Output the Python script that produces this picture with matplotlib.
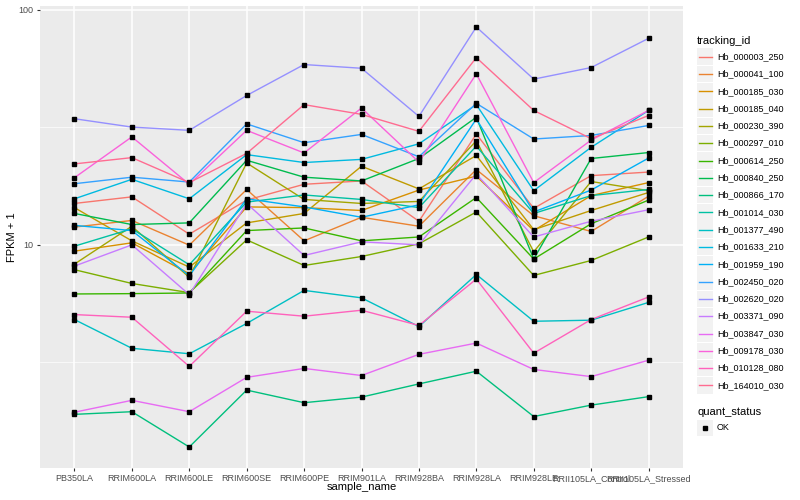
import numpy as np
import matplotlib.pyplot as plt
from matplotlib.patches import Rectangle
from matplotlib.lines import Line2D
from matplotlib.ticker import FixedLocator, NullFormatter, NullLocator

plt.rcParams['font.family'] = ['Liberation Sans', 'DejaVu Sans']

# サンプル名
samples = ['PB350LA', 'RRIM600LA', 'RRIM600LE', 'RRIM600SE', 'RRIM600PE',
           'RRIM901LA', 'RRIM928BA', 'RRIM928LA', 'RRIM928LE',
           'RRII105LA_Control', 'RRII105LA_Stressed']

# FPKM + 1
hb_000003_250 = [15.0, 16.0, 11.1, 15.5, 18.1, 18.7, 12.6, 29.6, 14.3, 19.7, 20.4]
hb_000041_100 = [11.9, 12.7, 9.97, 17.2, 10.4, 13.1, 12.0, 20.9, 13.3, 11.4, 16.1]
hb_000185_030 = [9.40, 10.2, 7.54, 14.5, 14.4, 14.0, 17.1, 19.6, 11.5, 16.2, 18.4]
hb_000185_040 = [14.4, 10.4, 8.04, 12.4, 13.6, 21.6, 17.3, 24.0, 11.6, 14.0, 16.7]
hb_000230_390 = [8.28, 12.0, 7.27, 22.3, 15.6, 15.0, 15.3, 27.7, 9.34, 18.6, 17.0]
hb_000297_010 = [7.84, 6.85, 6.26, 10.5, 8.17, 8.92, 10.1, 13.8, 7.41, 8.58, 10.8]
hb_000614_250 = [6.18, 6.20, 6.24, 11.5, 11.8, 10.4, 10.8, 15.9, 8.70, 12.3, 15.5]
hb_000840_250 = [13.6, 12.2, 12.4, 22.9, 19.4, 18.7, 23.3, 34.9, 8.70, 23.3, 24.7]
hb_000866_170 = [1.90, 1.95, 1.38, 2.41, 2.13, 2.25, 2.56, 2.90, 1.86, 2.08, 2.26]
hb_001014_030 = [9.87, 11.7, 8.23, 15.2, 16.3, 15.6, 14.4, 26.3, 13.6, 16.2, 17.2]
hb_001377_490 = [4.81, 3.63, 3.44, 4.63, 6.40, 5.95, 4.49, 7.48, 4.73, 4.78, 5.69]
hb_001633_210 = [15.7, 19.0, 15.7, 24.2, 22.4, 23.1, 26.9, 39.5, 17.0, 26.0, 37.3]
hb_001959_190 = [12.1, 11.5, 7.39, 15.7, 14.5, 13.1, 14.8, 34.3, 13.8, 17.1, 23.4]
hb_002450_020 = [18.2, 19.4, 18.5, 32.7, 27.2, 29.5, 23.7, 40.0, 28.2, 29.2, 32.2]
hb_002620_020 = [34.4, 31.7, 30.7, 43.2, 58.5, 56.4, 35.2, 84.5, 50.7, 56.8, 75.6]
hb_003371_090 = [8.12, 10.0, 6.14, 15.0, 9.01, 10.3, 10.0, 20.0, 10.8, 12.6, 14.1]
hb_003847_030 = [1.94, 2.18, 1.95, 2.73, 2.98, 2.78, 3.42, 3.82, 2.95, 2.75, 3.23]
hb_009178_030 = [19.3, 28.8, 18.1, 30.7, 24.6, 38.2, 22.5, 53.4, 18.4, 27.9, 37.3]
hb_010128_080 = [5.05, 4.92, 3.04, 5.22, 4.97, 5.27, 4.54, 7.15, 3.46, 4.81, 6.00]
hb_164010_030 = [22.1, 23.5, 18.4, 24.5, 39.5, 35.9, 30.4, 62.6, 37.3, 28.3, 35.5]

tracking_ids = ['Hb_000003_250', 'Hb_000041_100', 'Hb_000185_030', 'Hb_000185_040',
                'Hb_000230_390', 'Hb_000297_010', 'Hb_000614_250', 'Hb_000840_250',
                'Hb_000866_170', 'Hb_001014_030', 'Hb_001377_490', 'Hb_001633_210',
                'Hb_001959_190', 'Hb_002450_020', 'Hb_002620_020', 'Hb_003371_090',
                'Hb_003847_030', 'Hb_009178_030', 'Hb_010128_080', 'Hb_164010_030']

series = [hb_000003_250, hb_000041_100, hb_000185_030, hb_000185_040,
          hb_000230_390, hb_000297_010, hb_000614_250, hb_000840_250,
          hb_000866_170, hb_001014_030, hb_001377_490, hb_001633_210,
          hb_001959_190, hb_002450_020, hb_002620_020, hb_003371_090,
          hb_003847_030, hb_009178_030, hb_010128_080, hb_164010_030]

# ggplot2 のデフォルト色 (20色)
colors = ['#F8766D', '#EA8331', '#D89000', '#C09B00', '#A3A500', '#7CAE00',
          '#39B600', '#00BB4E', '#00BF7D', '#00C1A3', '#00BFC4', '#00BAE0',
          '#00B0F6', '#35A2FF', '#9590FF', '#C77CFF', '#E76BF3', '#FA62DB',
          '#FF62BC', '#FF6C91']

fig = plt.figure(figsize=(8, 5), dpi=100)
ax = fig.add_axes([40/800, 1-468/500, 643/800, 462/500])
ax.set_facecolor('#EBEBEB')

x = np.arange(len(samples))
for vals, c in zip(series, colors):
    ax.plot(x, vals, color=c, lw=1.0, zorder=2)
for vals in series:
    ax.plot(x, vals, 's', color='black', ms=2.6, zorder=3)

ax.set_yscale('log')
allv = np.log10(np.concatenate([np.array(s) for s in series]))
lo, hi = allv.min(), allv.max()
pad = (hi - lo) * 0.05
ax.set_ylim(10**(lo - pad), 10**(hi + pad))
ax.set_xlim(-0.6, len(samples) - 0.4)

ax.yaxis.set_major_locator(FixedLocator([10, 100]))
ax.set_yticklabels(['10', '100'])
ax.yaxis.set_minor_locator(FixedLocator([10**0.5, 10**1.5]))
ax.yaxis.set_minor_formatter(NullFormatter())
ax.set_xticks(x)
ax.set_xticklabels(samples)
ax.xaxis.set_minor_locator(NullLocator())

ax.grid(which='major', color='white', lw=1.1, zorder=0)
ax.grid(which='minor', axis='y', color='white', lw=0.5, zorder=0)
ax.set_axisbelow(True)
for s in ax.spines.values():
    s.set_visible(False)
ax.tick_params(axis='both', which='major', length=2.5, width=0.8, color='#333333',
               labelsize=6.5, labelcolor='#4D4D4D', pad=2)
ax.tick_params(axis='y', which='minor', length=0)

ax.set_xlabel('sample_name', fontsize=8, color='black')
ax.xaxis.set_label_coords(0.5, -0.030)
ax.set_ylabel('FPKM + 1', fontsize=8, color='black')
ax.yaxis.set_label_coords(-0.036, 0.5)

# 凡例 (手描き)
def fx(px):
    return px / 800

def fy(py):
    return 1 - py / 500

fig.text(fx(697), fy(40.5), 'tracking_id', fontsize=8, va='center', ha='left')
for i, (name, c) in enumerate(zip(tracking_ids, colors)):
    yc = 56.7 + 17.3 * i
    fig.patches.append(Rectangle((fx(697), fy(yc + 8.3)), 16/800, 16.6/500,
                                 transform=fig.transFigure, facecolor='#F2F2F2',
                                 edgecolor='none'))
    fig.lines.append(Line2D([fx(698.5), fx(711.5)], [fy(yc), fy(yc)],
                            transform=fig.transFigure, color=c, lw=1.0))
    fig.text(fx(717), fy(yc), name, fontsize=6.5, va='center', ha='left')

fig.text(fx(697), fy(412), 'quant_status', fontsize=8, va='center', ha='left')
fig.patches.append(Rectangle((fx(697), fy(428 + 8.3)), 16/800, 16.6/500,
                             transform=fig.transFigure, facecolor='#F2F2F2',
                             edgecolor='none'))
fig.lines.append(Line2D([fx(705)], [fy(428)], transform=fig.transFigure,
                        marker='s', color='black', ms=2.6, ls='none'))
fig.text(fx(717), fy(428), 'OK', fontsize=6.5, va='center', ha='left')

fig.savefig('out.png', dpi=100)
